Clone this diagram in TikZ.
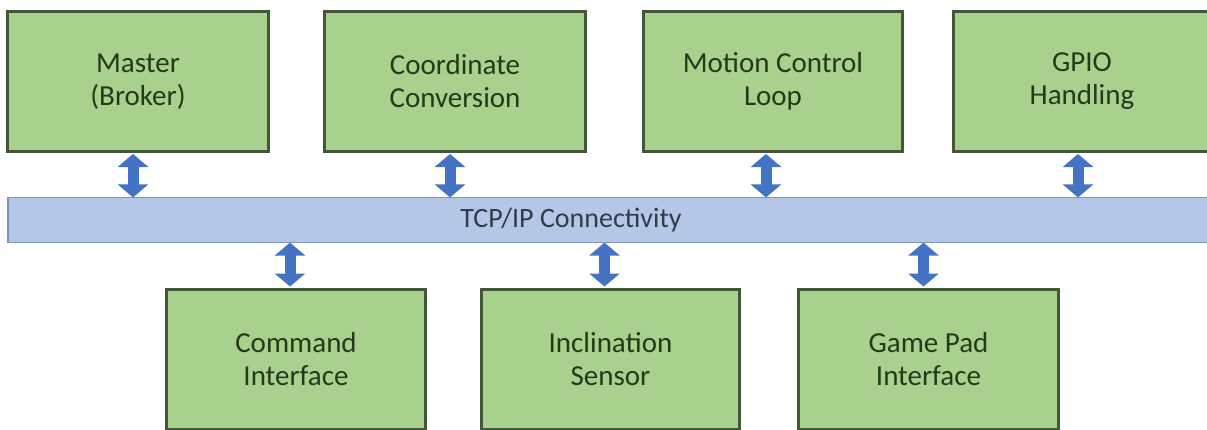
\documentclass[tikz,border=0pt]{standalone}
\usepackage{fontspec}
\setmainfont{Carlito}
\usetikzlibrary{arrows.meta}
\definecolor{boxfill}{HTML}{A9D18E}
\definecolor{boxdraw}{HTML}{44573A}
\definecolor{boxtext}{HTML}{233A1A}
\definecolor{barfill}{HTML}{B4C7E7}
\definecolor{bardraw}{HTML}{7F92B8}
\definecolor{bartext}{HTML}{333B4A}
\definecolor{arrowblue}{HTML}{4472C4}
\tikzset{
  modbox/.style={draw=boxdraw, line width=3pt, fill=boxfill, minimum height=140pt,
    align=center, text=boxtext, font=\fontsize{29}{33}\selectfont, inner sep=0pt},
  busbar/.style={draw=bardraw, line width=1.2pt, fill=barfill, minimum height=45pt, inner sep=0pt},
  buslabel/.style={text=bartext, font=\fontsize{28}{30}\selectfont, inner sep=0pt},
  link/.style={arrowblue, line width=11pt,
    {Triangle[width=30pt,length=13pt]}-{Triangle[width=30pt,length=13pt]}, shorten <=-0.5pt, shorten >=-0.5pt}
}
\begin{document}
\begin{tikzpicture}[x=1pt,y=-1pt]
\useasboundingbox (0,0) rectangle (1207,429);
% bus bar
\node[busbar, minimum width=1207pt] (bus) at (611.5,220) {};
\node[buslabel] (buslbl) at (571,220) {TCP/IP Connectivity};
% top modules
\node[modbox, minimum width=261pt] (master) at (138,81.5) {Master\\(Broker)};
\node[modbox, minimum width=261pt] (coord) at (455,81.5) {Coordinate\\Conversion};
\node[modbox, minimum width=259pt] (motion) at (773,81.5) {Motion Control\\Loop};
\node[modbox, minimum width=258pt] (gpio) at (1082,81.5) {GPIO\\Handling};
% bottom modules
\node[modbox, minimum width=259pt] (cmd) at (296,359) {Command\\Interface};
\node[modbox, minimum width=258pt] (incl) at (610.5,359) {Inclination\\Sensor};
\node[modbox, minimum width=260pt] (pad) at (928.5,359) {Game Pad\\Interface};
% connectors
\draw[link] ([xshift=-5pt,yshift=-1.5pt]master.south) -- ([xshift=-5pt]master.south |- bus.north);
\draw[link] ([xshift=-5pt,yshift=-1.5pt]coord.south) -- ([xshift=-5pt]coord.south |- bus.north);
\draw[link] ([xshift=-7pt,yshift=-1.5pt]motion.south) -- ([xshift=-7pt]motion.south |- bus.north);
\draw[link] ([xshift=-4pt,yshift=-1.5pt]gpio.south) -- ([xshift=-4pt]gpio.south |- bus.north);
\draw[link] ([xshift=-6pt]cmd.north |- bus.south) -- ([xshift=-6pt,yshift=1.5pt]cmd.north);
\draw[link] ([xshift=-6pt]incl.north |- bus.south) -- ([xshift=-6pt,yshift=1.5pt]incl.north);
\draw[link] ([xshift=-5pt]pad.north |- bus.south) -- ([xshift=-5pt,yshift=1.5pt]pad.north);
\end{tikzpicture}
\end{document}
